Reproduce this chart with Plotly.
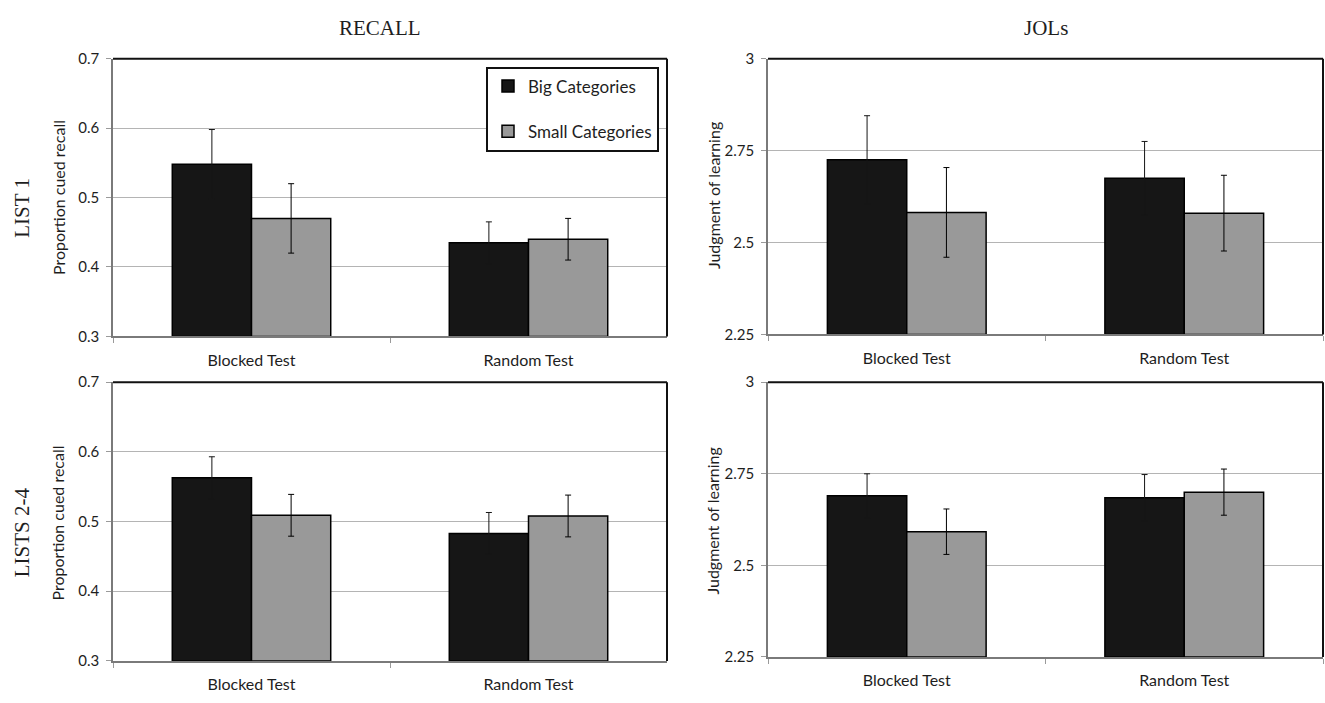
import plotly.graph_objects as go

W, H = 1325, 703

categories = ["Blocked Test", "Random Test"]
series_names = ["Big Categories", "Small Categories"]

recall_list1_big = [0.548, 0.435]
recall_list1_small = [0.470, 0.440]
recall_list1_big_err = [0.050, 0.030]
recall_list1_small_err = [0.050, 0.030]

jol_list1_big = [2.725, 2.675]
jol_list1_small = [2.582, 2.580]
jol_list1_big_err = [0.120, 0.100]
jol_list1_small_err = [0.122, 0.103]

recall_list24_big = [0.563, 0.483]
recall_list24_small = [0.509, 0.508]
recall_list24_big_err = [0.030, 0.030]
recall_list24_small_err = [0.030, 0.030]

jol_list24_big = [2.690, 2.685]
jol_list24_small = [2.592, 2.700]
jol_list24_big_err = [0.060, 0.063]
jol_list24_small_err = [0.062, 0.063]

col_titles = ["RECALL", "JOLs"]
row_titles = ["LIST 1", "LISTS 2-4"]
y_titles = ["Proportion cued recall", "Judgment of learning"]

BIG_COLOR = "#161616"
SMALL_COLOR = "#999999"
TEXT = "#1e1e1e"
SANS = "Lato"
SERIF = "Liberation Serif"


def px_x(p):
    return p / W


def px_y(p):
    return 1 - p / H


fig = go.Figure()

panels = [
    ("", recall_list1_big, recall_list1_small, recall_list1_big_err, recall_list1_small_err,
     (113, 667), (50, 335), (0.3, 0.7), 0.1),
    ("2", jol_list1_big, jol_list1_small, jol_list1_big_err, jol_list1_small_err,
     (768, 1323), (50, 333), (2.25, 3.0), 0.25),
    ("3", recall_list24_big, recall_list24_small, recall_list24_big_err, recall_list24_small_err,
     (113, 667), (382, 668), (0.3, 0.7), 0.1),
    ("4", jol_list24_big, jol_list24_small, jol_list24_big_err, jol_list24_small_err,
     (768, 1323), (382, 664), (2.25, 3.0), 0.25),
]

layout_axes = {}
shapes = []
for i, (suf, big, small, big_err, small_err, xr, yr, rng, dt) in enumerate(panels):
    xa = "x" + suf
    ya = "y" + suf
    for name, vals, errs, color, ecolor in [
        (series_names[0], big, big_err, BIG_COLOR, BIG_COLOR),
        (series_names[1], small, small_err, SMALL_COLOR, "#000000"),
    ]:
        fig.add_trace(go.Bar(
            x=categories, y=[v - rng[0] for v in vals], base=rng[0],
            name=name, legendgroup=name, showlegend=(i == 0),
            marker=dict(color=color, line=dict(color="#000000", width=1.5)),
            error_y=dict(type="data", array=errs, color=ecolor, thickness=1, width=3),
            xaxis=xa, yaxis=ya,
        ))
    layout_axes["xaxis" + suf] = dict(
        domain=[px_x(xr[0]), px_x(xr[1])], anchor=ya,
        type="category", showline=True, linecolor="#7a7a7a", linewidth=2,
        ticks="outside", tickson="boundaries", ticklen=5, tickcolor="#9a9a9a",
        tickfont=dict(family=SANS, size=16, color=TEXT), ticklabelstandoff=8,
        showgrid=False, zeroline=False, fixedrange=True,
    )
    layout_axes["yaxis" + suf] = dict(
        domain=[px_y(yr[1]), px_y(yr[0])], anchor=xa,
        range=list(rng), tickmode="linear", tick0=rng[0], dtick=dt,
        showline=True, linecolor="#7a7a7a", linewidth=1.5,
        ticks="outside", ticklen=5, tickcolor="#9a9a9a",
        tickfont=dict(family=SANS, size=15, color=TEXT), ticklabelstandoff=4,
        showgrid=True, gridcolor="#b4b4b4", gridwidth=1, zeroline=False, fixedrange=True,
    )
    shapes.append(dict(type="line", xref=xa + " domain", yref=ya + " domain",
                       x0=0, x1=1, y0=1, y1=1, line=dict(color="#111111", width=2)))
    shapes.append(dict(type="line", xref=xa + " domain", yref=ya + " domain",
                       x0=1, x1=1, y0=0, y1=1, line=dict(color="#111111", width=2)))

annotations = [
    dict(text=col_titles[0], x=px_x(380), y=px_y(18)),
    dict(text=col_titles[1], x=px_x(1046), y=px_y(18)),
    dict(text=row_titles[0], x=px_x(22), y=px_y(203), textangle=-90),
    dict(text=row_titles[1], x=px_x(22), y=px_y(536), textangle=-90),
]
for a in annotations:
    a.update(xref="paper", yref="paper", showarrow=False, xanchor="center", yanchor="middle",
             font=dict(family=SERIF, size=21, color=TEXT))

ylabs = [
    dict(text=y_titles[0], x=px_x(58), y=px_y(193)),
    dict(text=y_titles[1], x=px_x(713), y=px_y(191)),
    dict(text=y_titles[0], x=px_x(58), y=px_y(527)),
    dict(text=y_titles[1], x=px_x(713), y=px_y(525)),
]
for a in ylabs:
    a.update(xref="paper", yref="paper", showarrow=False, xanchor="center", yanchor="middle",
             textangle=-90, font=dict(family=SANS, size=16, color=TEXT))

fig.update_layout(
    width=W, height=H,
    margin=dict(l=0, r=0, t=0, b=0),
    paper_bgcolor="white", plot_bgcolor="white",
    barmode="group", bargap=0.428, bargroupgap=0,
    showlegend=True,
    hovermode=False,
    legend=dict(
        x=px_x(486), y=px_y(58), xanchor="left", yanchor="top",
        bgcolor="white", bordercolor="#111111", borderwidth=2,
        font=dict(family=SANS, size=17, color=TEXT),
        traceorder="grouped", tracegroupgap=20, itemwidth=30,
    ),
    annotations=annotations + ylabs,
    shapes=shapes,
    **layout_axes,
)

# remove the default 8px page margin so the 1325x703 figure fills the window exactly
fig.write_html(
    "out.html",
    config={"displayModeBar": False},
    post_script="document.body.style.margin='0';",
)
